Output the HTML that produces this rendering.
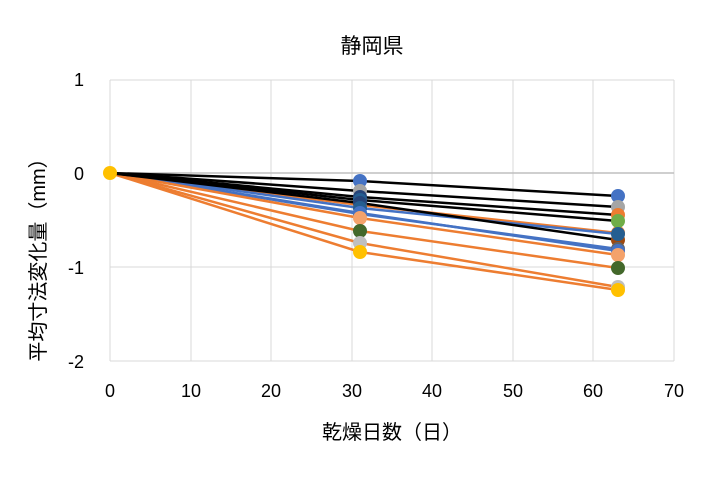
<!DOCTYPE html>
<html><head><meta charset="utf-8"><style>body{margin:0;background:#fff}</style></head><body>
<svg width="711" height="477" xmlns="http://www.w3.org/2000/svg" font-family="Liberation Sans, Noto Sans CJK JP, sans-serif">
<rect width="711" height="477" fill="#fff"/>
<g stroke="#d9d9d9" stroke-width="1">
<line x1="110" y1="80" x2="110" y2="361"/><line x1="191" y1="80" x2="191" y2="361"/><line x1="271" y1="80" x2="271" y2="361"/><line x1="352" y1="80" x2="352" y2="361"/><line x1="432" y1="80" x2="432" y2="361"/><line x1="513" y1="80" x2="513" y2="361"/><line x1="593" y1="80" x2="593" y2="361"/><line x1="674" y1="80" x2="674" y2="361"/>
<line x1="110" y1="80" x2="674" y2="80"/><line x1="110" y1="267" x2="674" y2="267"/><line x1="110" y1="361" x2="674" y2="361"/>
</g>
<line x1="110" y1="173" x2="674" y2="173" stroke="#bfbfbf" stroke-width="1.5"/>
<g fill="none" stroke-width="2.5">
<polyline stroke="#ed7d31" points="110,173 360,205 618,233"/>
<polyline stroke="#4472c4" points="110,173 360,208 618,234"/>
<polyline stroke="#4472c4" points="110,173 360,213 618,251"/>
<polyline stroke="#4472c4" points="110,173 360,214 618,249"/>
<polyline stroke="#ed7d31" points="110,173 360,218 618,255"/>
<polyline stroke="#ed7d31" points="110,173 360,231 618,268"/>
<polyline stroke="#ed7d31" points="110,173 360,243 618,287"/>
<polyline stroke="#ed7d31" points="110,173 360,252 618,290"/>
<polyline stroke="#000" points="110,173 360,181 618,196"/>
<polyline stroke="#000" points="110,173 360,191 618,207"/>
<polyline stroke="#000" points="110,173 360,197 618,215"/>
<polyline stroke="#000" points="110,173 360,200 618,221"/>
<polyline stroke="#000" points="110,173 360,203 618,240"/>
</g>
<g>
<circle cx="360" cy="205" r="7" fill="#ed7d31"/><circle cx="618" cy="233" r="7" fill="#ed7d31"/>
<circle cx="360" cy="181" r="7" fill="#4472c4"/><circle cx="618" cy="196" r="7" fill="#4472c4"/>
<circle cx="360" cy="191" r="7" fill="#a5a5a5"/><circle cx="618" cy="207" r="7" fill="#a5a5a5"/>
<circle cx="360" cy="197" r="7" fill="#264478"/><circle cx="618" cy="215" r="7" fill="#ed7d31"/>
<circle cx="360" cy="200" r="7" fill="#255e91"/><circle cx="618" cy="221" r="7" fill="#70ad47"/>
<circle cx="360" cy="203" r="7" fill="#264478"/><circle cx="618" cy="240" r="7" fill="#9e480e"/>
<circle cx="360" cy="208" r="7" fill="#255e91"/><circle cx="618" cy="234" r="7" fill="#255e91"/>
<circle cx="360" cy="214" r="7" fill="#636363"/><circle cx="618" cy="249" r="7" fill="#636363"/>
<circle cx="360" cy="213" r="7" fill="#4472c4"/><circle cx="618" cy="251" r="7" fill="#4472c4"/>
<circle cx="360" cy="218" r="7" fill="#f4a26b"/><circle cx="618" cy="255" r="7" fill="#f4a26b"/>
<circle cx="360" cy="231" r="7" fill="#43682b"/><circle cx="618" cy="268" r="7" fill="#43682b"/>
<circle cx="360" cy="243" r="7" fill="#bfbfbf"/><circle cx="618" cy="287" r="7" fill="#bfbfbf"/>
<circle cx="360" cy="252" r="7" fill="#ffc000"/><circle cx="618" cy="290" r="7" fill="#ffc000"/>
<circle cx="110" cy="173" r="7" fill="#ffc000"/>
</g>
<g font-size="18" fill="#000" text-anchor="end">
<text x="84" y="86">1</text><text x="84" y="180">0</text><text x="84" y="274">-1</text><text x="84" y="368">-2</text>
</g>
<g font-size="18" fill="#000" text-anchor="middle">
<text x="110" y="397">0</text><text x="191" y="397">10</text><text x="271" y="397">20</text><text x="352" y="397">30</text><text x="432" y="397">40</text><text x="513" y="397">50</text><text x="593" y="397">60</text><text x="674" y="397">70</text>
<text x="372" y="53" font-size="21">静岡県</text>
<text x="392" y="439" font-size="20">乾燥日数（日）</text>
<text transform="translate(45,255) rotate(-90)" font-size="20">平均寸法変化量（mm）</text>
</g>
</svg>
</body></html>
